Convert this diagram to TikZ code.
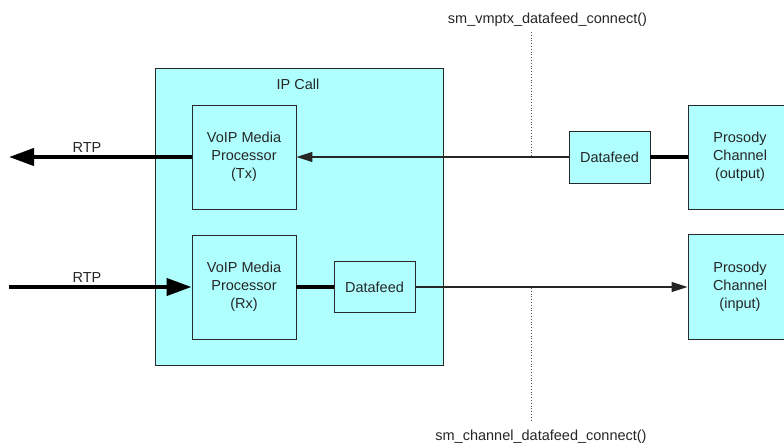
\documentclass[tikz,border=0pt]{standalone}
\usepackage{fontspec}
\setmainfont{Liberation Sans}
\usetikzlibrary{arrows.meta}
\definecolor{boxfill}{RGB}{175,255,255}
\definecolor{boxline}{RGB}{40,40,40}
\begin{document}
\begin{tikzpicture}[x=1pt,y=-1pt,
  every node/.style={font=\fontsize{14.5}{18}\selectfont, text=black!85},
  blk/.style={draw=boxline, line width=0.9pt, fill=boxfill, rectangle, inner sep=0pt, align=center},
  thin/.style={draw=black!85, line width=1.1pt},
  thick/.style={draw=black, line width=4pt},
  bigtip/.style={-{Triangle[length=25pt,width=17pt]}},
  smalltip/.style={-{Triangle[length=16pt,width=10pt]}},
  dotln/.style={draw=black!70, line width=0.8pt, dotted}
]
\useasboundingbox (0,0) rectangle (784,446);
\fill[white] (0,0) rectangle (784,446);

\node[blk, minimum width=288pt, minimum height=297pt] (ipcall) at (299,216.5) {};
\node (iplabel) at (298,84) {IP Call};

\node[blk, minimum width=104pt, minimum height=104pt] (tx) at (244,157) {VoIP Media\\Processor\\(Tx)};
\node[blk, minimum width=104pt, minimum height=104pt] (rx) at (244,287) {VoIP Media\\Processor\\(Rx)};
\node[blk, minimum width=81pt, minimum height=51pt] (dfin) at (374.5,287) {Datafeed};
\node[blk, minimum width=81pt, minimum height=52pt] (dfout) at (609.5,157) {Datafeed};
\node[blk, minimum width=104pt, minimum height=104pt] (pout) at (740,157) {Prosody\\Channel\\(output)};
\node[blk, minimum width=104pt, minimum height=105pt] (pin) at (740,287) {Prosody\\Channel\\(input)};

\coordinate (rtpoutend) at (9,157);
\coordinate (rtpinstart) at (9,287);
\coordinate (dtopA) at (531,32);
\coordinate (dtopB) at (531,157);
\coordinate (dbotA) at (531,288);
\coordinate (dbotB) at (531,421);

% dotted separators
\draw[dotln] (dtopA) -- (dtopB);
\draw[dotln] (dbotA) -- (dbotB);

% connectors
\draw[thick, bigtip] (tx.west) -- (rtpoutend);
\draw[thick, bigtip] (rtpinstart) -- (rx.west);
\draw[thick] (rx.east) -- (dfin.west);
\draw[thick, line width=4pt] (dfout.east) -- (pout.west);
\draw[thin, smalltip] (dfout.west) -- (tx.east);
\draw[thin, smalltip] (dfin.east) -- (pin.west);

% labels
\node (rtp1) at (87,148) {RTP};
\node (rtp2) at (87,278) {RTP};
\node (lbltop) at (547.5,20) {sm\_vmptx\_datafeed\_connect()};
\node (lblbot) at (541,437) {sm\_channel\_datafeed\_connect()};
\end{tikzpicture}
\end{document}
